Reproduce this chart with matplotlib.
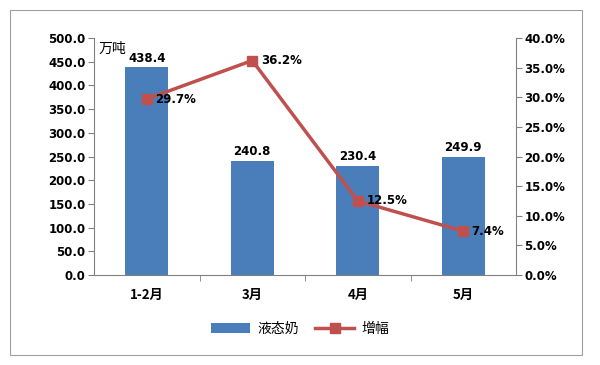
import matplotlib
matplotlib.use("Agg")
import matplotlib.pyplot as plt
import numpy as np
from matplotlib.patches import Rectangle

plt.rcParams['font.family'] = ['Noto Sans CJK SC', 'DejaVu Sans']

categories = ["1-2月", "3月", "4月", "5月"]
volume = [438.4, 240.8, 230.4, 249.9]
growth = [29.7, 36.2, 12.5, 7.4]

bar_color = "#4A7EBB"
line_color = "#C0504D"
num_font = dict(family="DejaVu Sans", fontsize=8.5, fontweight="bold")

fig = plt.figure(figsize=(6, 3.65), dpi=100)
fig.patches.append(Rectangle((10 / 600, 10 / 365), 572 / 600, 345 / 365,
                             transform=fig.transFigure, fill=False,
                             edgecolor="#A0A0A0", linewidth=0.8))

ax = fig.add_axes([94 / 600, 90 / 365, 422 / 600, 237 / 365])
x = np.arange(len(categories))
bars = ax.bar(x, volume, width=0.41, color=bar_color, label="液态奶", zorder=2)
ax.set_xlim(-0.5, len(categories) - 0.5)
ax.set_ylim(0, 500)
ax.set_yticks(np.arange(0, 501, 50))
ax.set_yticklabels([f"{v:.1f}" for v in np.arange(0, 501, 50)], **num_font)
ax.set_xticks(x)
ax.set_xticklabels(categories, fontsize=9.5, fontweight="bold")
ax.tick_params(axis="x", length=0, pad=9)
ax.set_xticks(np.arange(0.5, len(categories) - 0.5), minor=True)
ax.tick_params(axis="x", which="minor", length=4, color="#808080")
ax.tick_params(axis="y", length=4, color="#808080", pad=2)
for s in ["top", "right"]:
    ax.spines[s].set_visible(False)
for s in ["left", "bottom"]:
    ax.spines[s].set_color("#808080")
    ax.spines[s].set_linewidth(0.8)

for xi, v in zip(x, volume):
    ax.text(xi, v + 5, f"{v:.1f}", ha="center", va="bottom", **num_font)
ax.text(0.01, 0.985, "万吨", transform=ax.transAxes, ha="left", va="top",
        fontsize=10)

ax2 = ax.twinx()
line, = ax2.plot(x, growth, color=line_color, linewidth=2.5, marker="s",
                 markersize=7.5, label="增幅", zorder=3)
ax2.set_ylim(0, 40)
ax2.set_yticks(np.arange(0, 41, 5))
ax2.set_yticklabels([f"{v:.1f}%" for v in np.arange(0, 41, 5)], **num_font)
ax2.tick_params(axis="y", length=4, color="#808080", pad=2)
for s in ["top", "left", "bottom"]:
    ax2.spines[s].set_visible(False)
ax2.spines["right"].set_color("#808080")
ax2.spines["right"].set_linewidth(0.8)

for xi, g in zip(x, growth):
    ax2.text(xi + 0.08, g, f"{g:.1f}%", ha="left", va="center", **num_font)

fig.legend([bars, line], ["液态奶", "增幅"], loc="center",
           bbox_to_anchor=(0.5, 0.1), ncol=2, frameon=False,
           fontsize=10, handlelength=2.8, columnspacing=1.2, handletextpad=0.5)

fig.savefig("out.png", dpi=100)
